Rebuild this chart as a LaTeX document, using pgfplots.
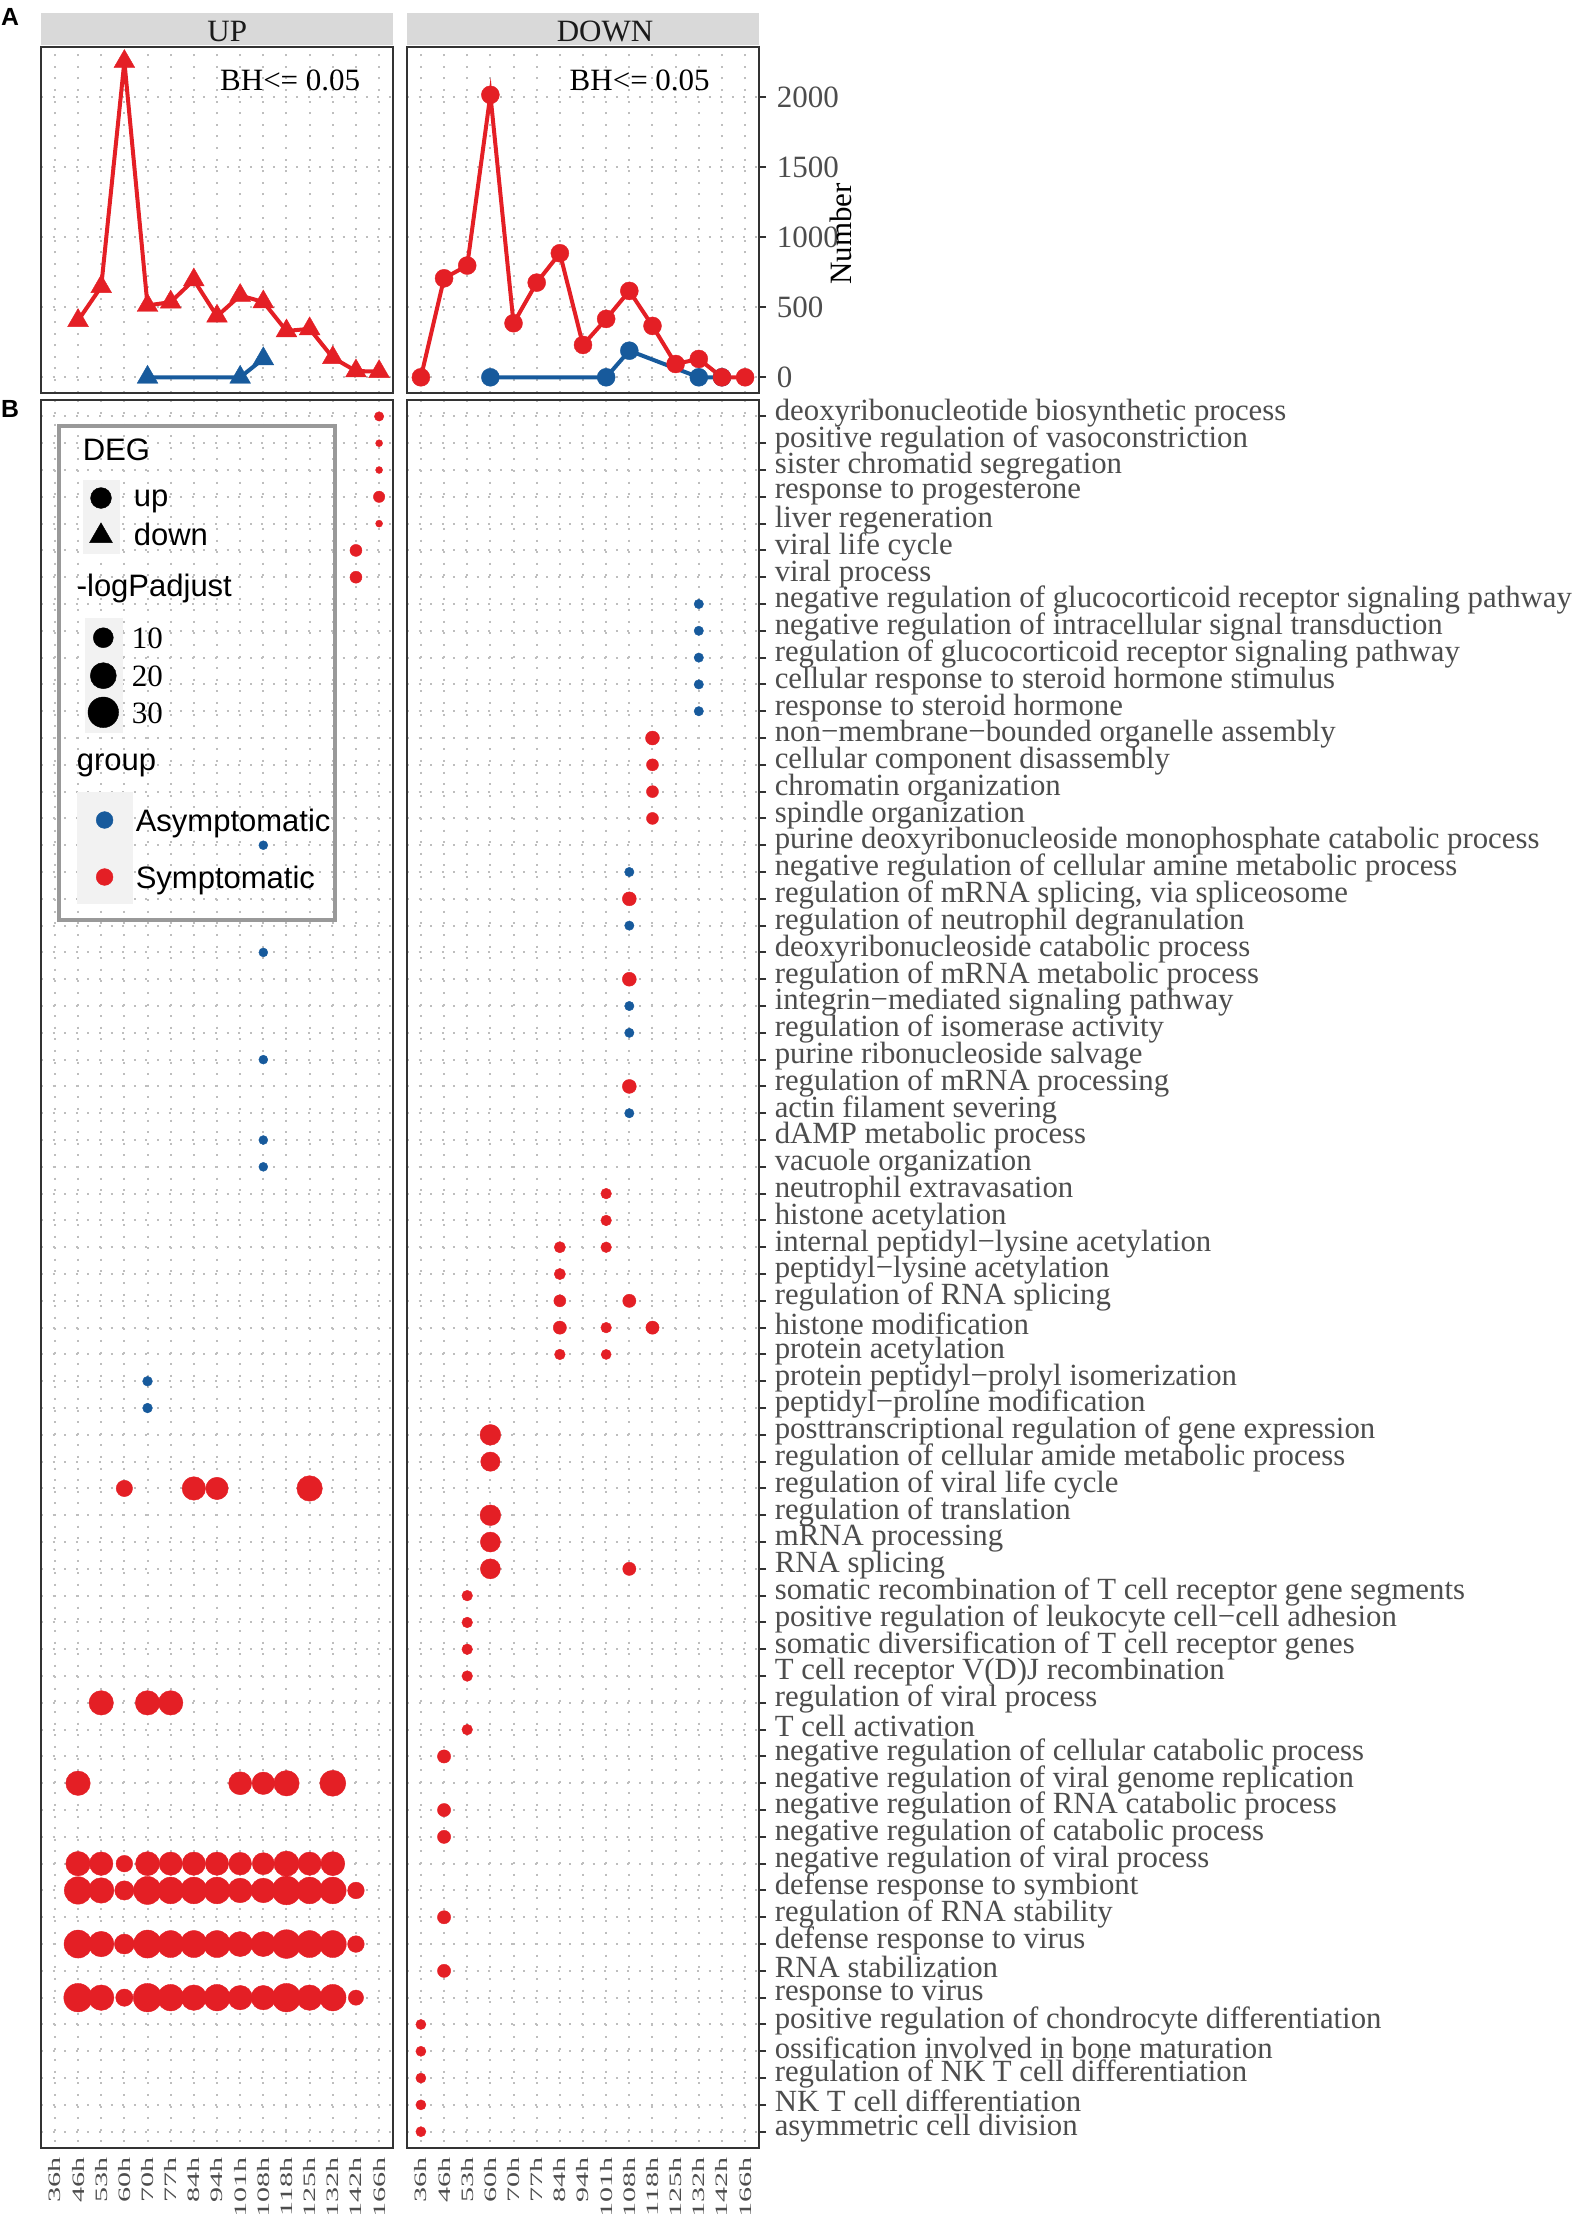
\documentclass[border=0pt]{standalone}
\usepackage{fontspec}
\setmainfont{Liberation Serif}
\newfontfamily\sansf{Liberation Sans}
\usepackage{graphicx}
\usepackage{pgfplots}
\usepackage{pgfplotstable}
\pgfplotsset{compat=1.18}

\definecolor{symred}{HTML}{E41F25}
\definecolor{asyblue}{HTML}{175A9C}
\definecolor{gridgray}{HTML}{BEBEBE}
\definecolor{txtgray}{HTML}{4D4D4D}
\definecolor{stripgray}{HTML}{D9D9D9}
\definecolor{keygray}{HTML}{F2F2F2}
\definecolor{boxgray}{HTML}{333333}
\definecolor{legborder}{HTML}{999999}
\definecolor{striptxt}{HTML}{1A1A1A}

\newcommand{\fs}{\fontsize{7.75}{9.3}\selectfont}
\newcommand{\fgo}{\fontsize{7.7}{9.2}\selectfont}
\newcommand{\fx}{\fontsize{4.35}{5.2}\selectfont}
\newcommand{\xl}[1]{\scalebox{1.73}[1]{#1}}

\pgfplotsset{
  panel/.style={
    scale only axis, anchor=south west, width=88pt,
    xmin=0.4, xmax=15.6, xtick={1,...,15},
    axis line style={boxgray, line width=0.5pt},
    grid=major,
    major grid style={gridgray, line width=0.5pt, dash pattern=on 0.5pt off 2.4pt},
    xtick style={draw=none},
    tick align=outside, major tick length=1.75pt,
    tick label style={font=\fs, text=txtgray},
    /pgf/number format/assume math mode=true,
    /pgf/number format/1000 sep={},
  },
  bx/.style={
    xticklabels={\xl{36h},\xl{46h},\xl{53h},\xl{60h},\xl{70h},\xl{77h},\xl{84h},\xl{94h},
      \xl{101h},\xl{108h},\xl{118h},\xl{125h},\xl{132h},\xl{142h},\xl{166h}},
    xticklabel style={font=\fx, rotate=90, anchor=east, inner sep=0pt},
    xticklabel shift=0.5pt,
  },
  godot/.style={
    scatter, only marks, mark=*, point meta=y,
    visualization depends on={\thisrow{v} \as \vv},
    scatter/@pre marker code/.code={%
      \pgfmathsetmacro\msz{(7+4.41*sqrt(max(\vv-1.3,0)))/8}%
      \scope[mark size=\msz pt, color=#1, fill=#1, line width=0.1pt]},
    scatter/@post marker code/.code={\endscope},
  },
}

% panel B data: x = time index (1=36h ... 15=166h), y = GO term row (1 = top), v = -logPadjust
\pgfplotstableread{
x y v
15 1 1.6
15 2 1.3
15 3 1.3
15 4 2.3
15 5 1.3
14 6 2.6
14 7 2.6
4 41 5.8
7 41 15.3
8 41 13.5
12 41 18.9
3 49 17.0
5 49 17.0
6 49 17.0
2 52 17.0
9 52 14.5
10 52 13.7
11 52 18.9
13 52 19.9
2 55 17.0
3 55 15.3
4 55 6.1
5 55 16.2
6 55 15.0
7 55 15.0
8 55 15.0
9 55 14.0
10 55 12.9
11 55 18.5
12 55 15.0
13 55 16.2
2 56 22.9
3 56 18.9
4 56 9.1
5 56 24.0
6 56 21.3
7 56 21.3
8 56 21.3
9 56 17.4
10 56 17.4
11 56 25.6
12 56 21.3
13 56 21.3
14 56 6.1
2 58 24.0
3 58 18.9
4 58 10.0
5 58 24.0
6 58 21.9
7 58 21.9
8 58 21.9
9 58 18.0
10 58 18.0
11 58 25.6
12 58 21.9
13 58 21.9
14 58 6.1
2 60 25.1
3 60 18.9
4 60 6.8
5 60 25.1
6 60 20.9
7 60 18.9
8 60 20.9
9 60 17.0
10 60 17.0
11 60 25.1
12 60 18.9
13 60 20.9
14 60 4.8
}\bupred

\pgfplotstableread{
x y v
10 17 1.5
10 21 1.5
10 25 1.5
10 28 1.5
10 29 1.5
5 37 1.7
5 38 1.7
}\bupblue

\pgfplotstableread{
x y v
13 8 1.6
13 9 1.6
13 10 1.6
13 11 1.6
13 12 1.6
10 18 1.6
10 20 1.6
10 23 1.6
10 24 1.6
10 27 1.6
}\bdownblue

\pgfplotstableread{
x y v
11 13 3.8
11 14 2.6
11 15 2.6
11 16 2.6
10 19 3.8
10 22 3.8
10 26 3.8
9 30 2.0
9 31 2.0
7 32 2.25
9 32 2.0
7 33 2.25
7 34 2.6
10 34 3.3
7 35 3.3
9 35 2.0
11 35 3.3
7 36 2.0
9 36 1.8
4 39 11.0
4 40 9.1
4 42 11.0
4 43 10.0
4 44 10.0
10 44 3.3
3 45 2.0
3 46 2.0
3 47 2.0
3 48 2.0
3 50 2.0
2 51 3.3
2 53 3.3
2 54 3.3
2 57 3.3
2 59 3.3
1 61 1.8
1 62 1.8
1 63 1.8
1 64 1.8
1 65 1.8
}\bdownred

\pgfplotstableread{
x y v
103.3 637.7 10
103.3 675.7 20
103.3 712.3 30
}\legsize

\begin{document}
\begin{tikzpicture}
\useasboundingbox (0pt,0pt) rectangle (393.25pt,-553.5pt);

% ---------------- Panel A : UP ----------------
\begin{axis}[panel, at={(10.25pt,-98.175pt)}, height=86.5pt,
  ymin=-110, ymax=2361, ytick={0,500,1000,1500,2000},
  yticklabels={}, xticklabels={}, ytick style={draw=none}]
\addplot[asyblue, line width=1pt, mark=triangle*, mark size=3pt,
  mark options={line width=0.1pt}] coordinates {(5,0)(9,0)(10,132)};
\addplot[symred, line width=1pt, mark=triangle*, mark size=3pt,
  mark options={line width=0.1pt}] coordinates {
  (2,405)(3,647)(4,2255)(5,513)(6,537)(7,695)(8,436)(9,584)(10,538)
  (11,331)(12,346)(13,140)(14,45)(15,40)};
\end{axis}

% ---------------- Panel A : DOWN ----------------
\begin{axis}[panel, at={(101.75pt,-98.175pt)}, height=86.5pt,
  ymin=-110, ymax=2361, ytick={0,500,1000,1500,2000},
  ytick pos=right, yticklabel pos=right, xticklabels={},
  ytick style={boxgray, line width=0.5pt},
  yticklabel style={anchor=west, inner sep=0pt}, yticklabel shift=2.5pt]
\addplot[asyblue, line width=1pt, mark=*, mark size=2.25pt,
  mark options={line width=0.1pt}] coordinates {(4,0)(9,0)(10,190)(13,0)(14,0)};
\addplot[symred, line width=1pt, mark=*, mark size=2.25pt,
  mark options={line width=0.1pt}] coordinates {
  (1,0)(2,707)(3,798)(4,2017)(5,386)(6,676)(7,886)(8,231)(9,417)(10,617)
  (11,367)(12,95)(13,131)(14,0)(15,0)};
\end{axis}

% ---------------- Panel B : UP ----------------
\begin{axis}[panel, bx, at={(10.25pt,-536.925pt)}, height=436.85pt,
  y dir=reverse, ymin=0.4, ymax=65.6, ytick={1,...,65}, yticklabels={},
  ytick style={draw=none}]
\addplot[godot=asyblue] table {\bupblue};
\addplot[godot=symred] table {\bupred};
\end{axis}

% ---------------- Panel B : DOWN ----------------
\begin{axis}[panel, bx, at={(101.75pt,-536.925pt)}, height=436.85pt,
  y dir=reverse, ymin=0.4, ymax=65.6, ytick={1,...,65},
  ytick pos=right, yticklabel pos=right,
  ytick style={boxgray, line width=0.5pt},
  yticklabel style={anchor=west, inner sep=0pt, font=\fgo, yshift=0.9pt}, yticklabel shift=2.0pt,
  yticklabels={
    {deoxyribonucleotide biosynthetic process},
    {positive regulation of vasoconstriction},
    {sister chromatid segregation},
    {response to progesterone},
    {liver regeneration},
    {viral life cycle},
    {viral process},
    {negative regulation of glucocorticoid receptor signaling pathway},
    {negative regulation of intracellular signal transduction},
    {regulation of glucocorticoid receptor signaling pathway},
    {cellular response to steroid hormone stimulus},
    {response to steroid hormone},
    {non−membrane−bounded organelle assembly},
    {cellular component disassembly},
    {chromatin organization},
    {spindle organization},
    {purine deoxyribonucleoside monophosphate catabolic process},
    {negative regulation of cellular amine metabolic process},
    {regulation of mRNA splicing, via spliceosome},
    {regulation of neutrophil degranulation},
    {deoxyribonucleoside catabolic process},
    {regulation of mRNA metabolic process},
    {integrin−mediated signaling pathway},
    {regulation of isomerase activity},
    {purine ribonucleoside salvage},
    {regulation of mRNA processing},
    {actin filament severing},
    {dAMP metabolic process},
    {vacuole organization},
    {neutrophil extravasation},
    {histone acetylation},
    {internal peptidyl−lysine acetylation},
    {peptidyl−lysine acetylation},
    {regulation of RNA splicing},
    {histone modification},
    {protein acetylation},
    {protein peptidyl−prolyl isomerization},
    {peptidyl−proline modification},
    {posttranscriptional regulation of gene expression},
    {regulation of cellular amide metabolic process},
    {regulation of viral life cycle},
    {regulation of translation},
    {mRNA processing},
    {RNA splicing},
    {somatic recombination of T cell receptor gene segments},
    {positive regulation of leukocyte cell−cell adhesion},
    {somatic diversification of T cell receptor genes},
    {T cell receptor V(D)J recombination},
    {regulation of viral process},
    {T cell activation},
    {negative regulation of cellular catabolic process},
    {negative regulation of viral genome replication},
    {negative regulation of RNA catabolic process},
    {negative regulation of catabolic process},
    {negative regulation of viral process},
    {defense response to symbiont},
    {regulation of RNA stability},
    {defense response to virus},
    {RNA stabilization},
    {response to virus},
    {positive regulation of chondrocyte differentiation},
    {ossification involved in bone maturation},
    {regulation of NK T cell differentiation},
    {NK T cell differentiation},
    {asymmetric cell division}}]
\addplot[godot=asyblue] table {\bdownblue};
\addplot[godot=symred] table {\bdownred};
\end{axis}

% ---------------- overlay in image pixel units ----------------
\begin{axis}[at={(0pt,-553.5pt)}, anchor=south west, scale only axis,
  width=393.25pt, height=553.5pt, xmin=0, xmax=1573, ymin=0, ymax=2214,
  y dir=reverse, hide axis, clip=false]
% strips
\fill[stripgray] (axis cs:41,12.7) rectangle (axis cs:393,45);
\fill[stripgray] (axis cs:407,12.7) rectangle (axis cs:759,45);
\node[anchor=base west, inner sep=0pt, font=\fs, text=striptxt] at (axis cs:206.6,41.7) {UP};
\node[anchor=base west, inner sep=0pt, font=\fs, text=striptxt] at (axis cs:556,41.7) {DOWN};
\node[anchor=base west, inner sep=0pt, font=\fs] at (axis cs:219.4,90) {BH<= 0.05};
\node[anchor=base west, inner sep=0pt, font=\fs] at (axis cs:568.9,90) {BH<= 0.05};
\node[rotate=90, inner sep=0pt, font=\fs] at (axis cs:841,234) {Number};
\node[inner sep=0pt, font=\sansf\bfseries\fontsize{6.2}{7}\selectfont] at (axis cs:10,17) {A};
\node[inner sep=0pt, font=\sansf\bfseries\fontsize{6.2}{7}\selectfont] at (axis cs:10,409) {B};
% legend
\draw[legborder, line width=1pt] (axis cs:59,426) rectangle (axis cs:335,920);
\fill[keygray] (axis cs:83,480) rectangle (axis cs:120,554);
\fill[keygray] (axis cs:85,618) rectangle (axis cs:123,733);
\fill[keygray] (axis cs:76.5,792) rectangle (axis cs:133,904);
\node[anchor=base west, inner sep=0pt, font=\sansf\fs] at (axis cs:82,460) {DEG};
\node[anchor=base west, inner sep=0pt, font=\sansf\fs] at (axis cs:133,506) {up};
\node[anchor=base west, inner sep=0pt, font=\sansf\fs] at (axis cs:133,545) {down};
\node[anchor=base west, inner sep=0pt, font=\sansf\fs] at (axis cs:76,596) {-logPadjust};
\node[anchor=base west, inner sep=0pt, font=\fs] at (axis cs:131,648) {10};
\node[anchor=base west, inner sep=0pt, font=\fs] at (axis cs:131,686) {20};
\node[anchor=base west, inner sep=0pt, font=\fs] at (axis cs:131,723) {30};
\node[anchor=base west, inner sep=0pt, font=\sansf\fs] at (axis cs:76,770) {group};
\node[anchor=base west, inner sep=0pt, font=\sansf\fs] at (axis cs:135,831) {Asymptomatic};
\node[anchor=base west, inner sep=0pt, font=\sansf\fs] at (axis cs:135,888) {Symptomatic};
\addplot[only marks, mark=*, black, mark size=2.6pt, mark options={line width=0.1pt}] coordinates {(101,498)};
\addplot[only marks, mark=triangle*, black, mark size=3.3pt, mark options={line width=0.1pt}] coordinates {(101,536)};
\addplot[godot=black] table {\legsize};
\addplot[only marks, mark=*, asyblue, mark size=2.1pt, mark options={line width=0.1pt}] coordinates {(104.6,820)};
\addplot[only marks, mark=*, symred, mark size=2.1pt, mark options={line width=0.1pt}] coordinates {(104.6,877)};
\end{axis}
\end{tikzpicture}
\end{document}
